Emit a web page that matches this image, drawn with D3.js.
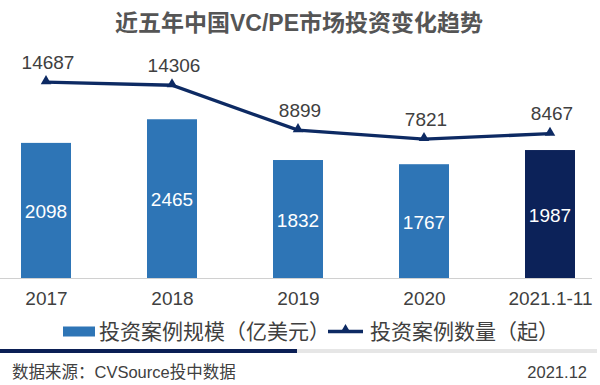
<!DOCTYPE html>
<html><head><meta charset="utf-8">
<script src="https://cdn.jsdelivr.net/npm/d3@7"></script>
<style>body{margin:0;background:#fff}svg{display:block}</style>
</head><body>
<svg id="c" width="600" height="385"></svg>
<script>
const title = "近五年中国VC/PE市场投资变化趋势";
const categories = ["2017", "2018", "2019", "2020", "2021.1-11"];
const amountValues = [2098, 2465, 1832, 1767, 1987];   // 投资案例规模（亿美元）
const countValues = [14687, 14306, 8899, 7821, 8467];  // 投资案例数量（起）
const legendLabels = ["投资案例规模（亿美元）", "投资案例数量（起）"];
const sourceText = "数据来源：CVSource投中数据";
const dateText = "2021.12";

const svg = d3.select("#c");
const font = "Liberation Sans, Arial, 'Noto Sans CJK SC', sans-serif";
const textColor = "#404040";
const barBlue = "#2e75b6";
const barDark = "#0c2259";
const lineColor = "#0d2a63";

const x = d3.scalePoint().domain(categories).range([46, 550]);
const barW = 50;
const yBar = d3.scaleLinear().domain([0, 3000]).range([278, 84.8]);
const yLine = d3.scaleLinear().domain([0, 16000]).range([204, 71.2]);

// title
svg.append("text").attr("x", 299).attr("y", 23)
  .attr("text-anchor", "middle").attr("dominant-baseline", "central")
  .style("font-family", font).style("font-size", "23px").style("font-weight", "bold")
  .style("fill", "#555").text(title);

// bars
svg.selectAll("rect.bar").data(amountValues).join("rect").attr("class", "bar")
  .attr("x", (d, i) => x(categories[i]) - barW / 2)
  .attr("y", d => yBar(d))
  .attr("width", barW)
  .attr("height", d => yBar(0) - yBar(d))
  .attr("fill", (d, i) => i === categories.length - 1 ? barDark : barBlue);

svg.selectAll("text.barlab").data(amountValues).join("text").attr("class", "barlab")
  .attr("x", (d, i) => x(categories[i]))
  .attr("y", d => (yBar(d) + yBar(0)) / 2 + 1)
  .attr("text-anchor", "middle").attr("dominant-baseline", "central")
  .style("font-family", font).style("font-size", "19px").style("fill", "#fff")
  .text(d => d);

// x axis
const xAxis = d3.axisBottom(x).tickSize(0).tickPadding(14);
const gx = svg.append("g").attr("transform", `translate(0,${yBar(0)})`).call(xAxis);
gx.select(".domain").attr("d", "M0,0.5H592").attr("stroke", "#d0d0d0").attr("stroke-width", 1);
gx.selectAll("text").style("font-family", font).style("font-size", "19px").style("fill", textColor);

// line
const line = d3.line().x((d, i) => x(categories[i])).y(d => yLine(d));
svg.append("path").datum(countValues).attr("d", line)
  .attr("fill", "none").attr("stroke", lineColor).attr("stroke-width", 3.3);
const tri = d3.symbol().type(d3.symbolTriangle).size(48);
svg.selectAll("path.mk").data(countValues).join("path").attr("class", "mk")
  .attr("d", tri)
  .attr("transform", (d, i) => `translate(${x(categories[i])},${yLine(d) - 1})`)
  .attr("fill", lineColor);
svg.selectAll("text.linelab").data(countValues).join("text").attr("class", "linelab")
  .attr("x", (d, i) => x(categories[i]) + 2)
  .attr("y", d => yLine(d) - 20)
  .attr("text-anchor", "middle").attr("dominant-baseline", "central")
  .style("font-family", font).style("font-size", "19px").style("fill", textColor)
  .text(d => d);

// legend
const lg = svg.append("g");
lg.append("rect").attr("x", 63).attr("y", 326.5).attr("width", 32).attr("height", 10).attr("fill", barBlue);
lg.append("text").attr("x", 99).attr("y", 331.5).attr("dominant-baseline", "central")
  .style("font-family", font).style("font-size", "21px").style("fill", textColor).text(legendLabels[0]);
lg.append("line").attr("x1", 328).attr("x2", 363).attr("y1", 331.5).attr("y2", 331.5)
  .attr("stroke", lineColor).attr("stroke-width", 3.3);
lg.append("path").attr("d", tri).attr("transform", "translate(345.5,330)").attr("fill", lineColor);
lg.append("text").attr("x", 370).attr("y", 331.5).attr("dominant-baseline", "central")
  .style("font-family", font).style("font-size", "21px").style("fill", textColor).text(legendLabels[1]);

// bottom strip
svg.append("rect").attr("x", 297).attr("y", 349).attr("width", 300).attr("height", 4).attr("fill", "#e6e6e6");
svg.append("rect").attr("x", 0).attr("y", 349).attr("width", 297).attr("height", 4).attr("fill", "#0b1f55");

// footer
svg.append("text").attr("x", 12).attr("y", 372).attr("dominant-baseline", "central")
  .style("font-family", font).style("font-size", "16.5px").style("fill", textColor).text(sourceText);
svg.append("text").attr("x", 587).attr("y", 372).attr("text-anchor", "end").attr("dominant-baseline", "central")
  .style("font-family", font).style("font-size", "16.5px").style("fill", textColor).text(dateText);
</script>
</body></html>
